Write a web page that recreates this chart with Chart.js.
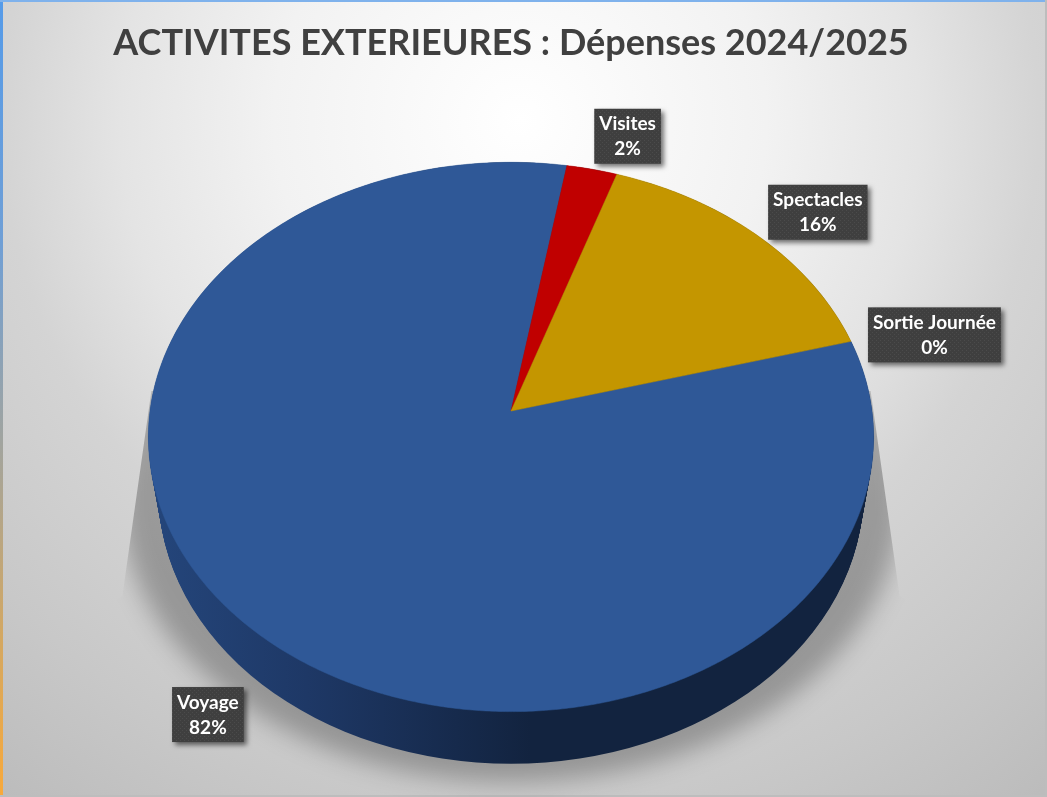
<!DOCTYPE html>
<html lang="fr">
<head>
<meta charset="utf-8">
<title>ACTIVITES EXTERIEURES</title>
<script src="https://cdn.jsdelivr.net/npm/chart.js@4"></script>
<style>
  html, body { margin: 0; padding: 0; background: #ddd; }
  canvas { display: block; }
</style>
</head>
<body>
<canvas id="depenses" width="1047" height="797"></canvas>
<script>
let titleText = 'ACTIVITES EXTERIEURES : Dépenses 2024/2025';
let categories = ['Voyage', 'Visites', 'Spectacles', 'Sortie Journée'];
let depenses = [81.93, 2.47, 15.6, 0];
let sliceColors = ['#2f5897', '#c00000', '#c49600', '#4472c4'];
let firstSliceAngle = 74.8;

// 3d look: the flat pie of chart.js goes through a small perspective
const TILT = 0.754, PERSP = -0.0945;

function project(arc, angle) {
  const u = Math.cos(angle), v = Math.sin(angle);
  const w = 1 + PERSP * v;
  return {
    x: arc.x + arc.outerRadius * u / w,
    y: arc.y + arc.outerRadius * TILT * v / w
  };
}

function dotPattern(ctx) {
  const c = document.createElement('canvas');
  c.width = c.height = 4;
  const p = c.getContext('2d');
  p.fillStyle = '#3f3f3f';
  p.fillRect(0, 0, 4, 4);
  p.fillStyle = '#4b4b4b';
  p.fillRect(0, 0, 1, 1);
  p.fillRect(2, 2, 1, 1);
  return ctx.createPattern(c, 'repeat');
}

const backgroundPlugin = {
  id: 'fond',
  beforeDraw(chart) {
    const ctx = chart.ctx, w = chart.width, h = chart.height;
    const g = ctx.createRadialGradient(520, 120, 0, 520, 120, 850);
    g.addColorStop(0, '#ffffff');
    g.addColorStop(0.29, '#f2f2f2');
    g.addColorStop(0.47, '#e4e4e4');
    g.addColorStop(0.61, '#d4d4d4');
    g.addColorStop(0.82, '#c8c8c8');
    g.addColorStop(1, '#bcbcbc');
    ctx.fillStyle = g;
    ctx.fillRect(0, 0, w, h);

    // window edge of the screenshot
    const edge = ctx.createLinearGradient(0, 0, 0, h);
    edge.addColorStop(0, '#559be9');
    edge.addColorStop(0.3, '#6f9fd6');
    edge.addColorStop(0.55, '#a0a4a0');
    edge.addColorStop(0.8, '#d4a862');
    edge.addColorStop(1, '#f9a93a');
    ctx.fillStyle = edge;
    ctx.fillRect(0, 0, 3, h);
    ctx.fillStyle = '#7fb2ec';
    ctx.fillRect(0, 0, w, 2);
    ctx.fillStyle = '#bdbdbd';
    ctx.fillRect(w - 2, 0, 2, h);
    ctx.fillRect(0, h - 2, w, 2);
  }
};

const pie3dPlugin = {
  id: 'pie3d',
  beforeDatasetDraw(chart, args) {
    const ctx = chart.ctx;
    const arcs = chart.getDatasetMeta(args.index).data;
    const first = arcs[0];
    const R = first.outerRadius, cx = first.x;

    // rim of the top face and of the lower face
    const topRx = R / Math.sqrt(1 - PERSP * PERSP);
    const topRy = R * TILT / (1 - PERSP * PERSP);
    const topCy = first.y + R * TILT * -PERSP / (1 - PERSP * PERSP);
    const botRx = topRx * 0.972, botRy = topRy * 0.99, botCy = topCy + topRy * 0.2;

    // shadow on the wall behind
    ctx.save();
    ctx.beginPath();
    ctx.moveTo(cx - topRx + 3, first.y - 20);
    ctx.lineTo(cx + topRx - 3, first.y - 20);
    ctx.lineTo(cx + topRx + 26, first.y + 185);
    ctx.lineTo(chart.width, first.y + 250);
    ctx.lineTo(chart.width, chart.height);
    ctx.lineTo(0, chart.height);
    ctx.lineTo(0, first.y + 250);
    ctx.lineTo(cx - topRx - 26, first.y + 185);
    ctx.closePath();
    ctx.clip();
    ctx.filter = 'blur(12px)';
    ctx.fillStyle = 'rgba(0,0,0,0.27)';
    ctx.beginPath();
    ctx.ellipse(cx, botCy + 6, botRx + 38, botRy + 12, 0, 0, Math.PI * 2);
    ctx.fill();
    ctx.restore();

    // side of the pie, only the big slice shows there
    const side = ctx.createLinearGradient(cx - botRx, 0, cx + 20, 0);
    side.addColorStop(0, '#24457a');
    side.addColorStop(0.4, '#1e3866');
    side.addColorStop(1, '#12233f');
    ctx.fillStyle = side;
    for (let i = 0; i <= 50; i++) {
      const s = i / 50;
      ctx.beginPath();
      ctx.ellipse(cx, topCy + (botCy - topCy) * s,
        topRx + (botRx - topRx) * s, topRy + (botRy - topRy) * s, 0, 0, Math.PI * 2);
      ctx.fill();
    }

    // top face, one path per slice
    arcs.forEach(function (arc, i) {
      if (arc.endAngle - arc.startAngle <= 0) return;
      ctx.beginPath();
      ctx.moveTo(arc.x, arc.y);
      const steps = Math.ceil((arc.endAngle - arc.startAngle) * 120);
      for (let k = 0; k <= steps; k++) {
        const p = project(arc, arc.startAngle + (arc.endAngle - arc.startAngle) * k / steps);
        ctx.lineTo(p.x, p.y);
      }
      ctx.closePath();
      ctx.fillStyle = sliceColors[i];
      ctx.strokeStyle = sliceColors[i];
      ctx.lineWidth = 0.5;
      ctx.fill();
      ctx.stroke();
    });
    return false;
  },
  afterDatasetsDraw(chart, args, opts) {
    const ctx = chart.ctx;
    const arcs = chart.getDatasetMeta(0).data;
    const total = depenses.reduce(function (a, b) { return a + b; }, 0);
    const pattern = dotPattern(ctx);
    arcs.forEach(function (arc, i) {
      const anchor = project(arc, (arc.startAngle + arc.endAngle) / 2);
      const x = anchor.x + opts.nudges[i][0], y = anchor.y + opts.nudges[i][1];
      const pct = Math.round(depenses[i] / total * 100) + '%';
      ctx.font = opts.font;
      const bw = ctx.measureText(categories[i]).width + 5 * 2;
      const bh = 55;
      ctx.save();
      ctx.shadowColor = 'rgba(0,0,0,0.55)';
      ctx.shadowBlur = 5;
      ctx.shadowOffsetX = 3;
      ctx.shadowOffsetY = 3;
      ctx.fillStyle = pattern;
      ctx.fillRect(x - bw / 2, y - bh / 2, bw, bh);
      ctx.restore();
      ctx.fillStyle = '#ffffff';
      ctx.textAlign = 'center';
      ctx.textBaseline = 'middle';
      ctx.fillText(categories[i], x, y - 12);
      ctx.fillText(pct, x, y + 13);
    });
  }
};

new Chart(document.getElementById('depenses').getContext('2d'), {
  type: 'pie',
  data: {
    labels: categories,
    datasets: [{
      data: depenses,
      backgroundColor: sliceColors,
      borderWidth: 0
    }]
  },
  options: {
    responsive: false,
    animation: false,
    devicePixelRatio: 1,
    rotation: firstSliceAngle,
    layout: { padding: { left: 50, right: 75, top: 21.4, bottom: 25 } },
    plugins: {
      legend: { display: false },
      tooltip: { enabled: false },
      title: {
        display: true,
        text: titleText,
        color: '#404040',
        font: { family: 'Lato', size: 36, weight: 'bold' },
        padding: { top: 0, bottom: -14.6 }
      },
      pie3d: {
        font: 'bold 19px Lato',
        nudges: [[-42, 87], [35.5, -33], [60, -23.5], [83.5, -6.5]]
      }
    }
  },
  plugins: [backgroundPlugin, pie3dPlugin]
});
</script>
</body>
</html>
